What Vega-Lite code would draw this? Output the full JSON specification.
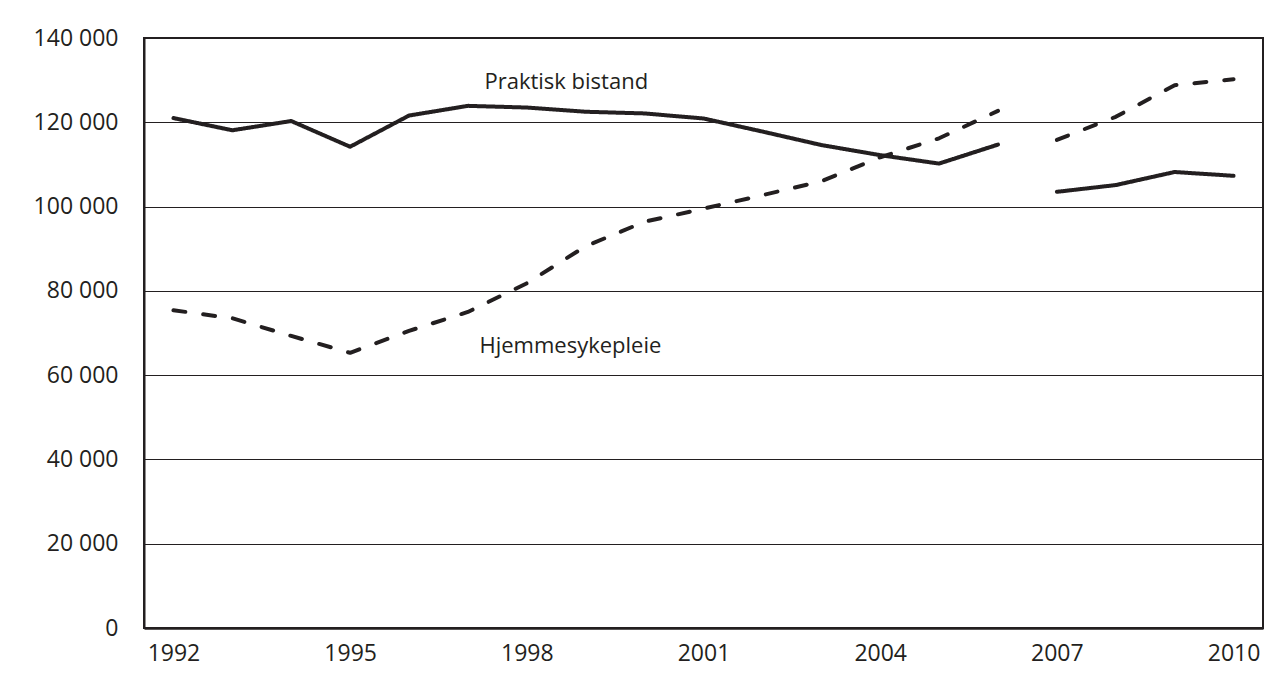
{
  "$schema": "https://vega.github.io/schema/vega-lite/v6.json",
  "width": 1119,
  "height": 590,
  "autosize": {"type": "none"},
  "padding": {"left": 144, "top": 38, "right": 13, "bottom": 58},
  "background": "white",
  "config": {
    "font": "Open Sans",
    "view": {"stroke": "#231f20", "strokeWidth": 2}
  },
  "datasets": {
    "series": [
      {"series": "Praktisk bistand", "segment": "A", "year": 1992, "value": 121000},
      {"series": "Praktisk bistand", "segment": "A", "year": 1993, "value": 118100},
      {"series": "Praktisk bistand", "segment": "A", "year": 1994, "value": 120300},
      {"series": "Praktisk bistand", "segment": "A", "year": 1995, "value": 114200},
      {"series": "Praktisk bistand", "segment": "A", "year": 1996, "value": 121600},
      {"series": "Praktisk bistand", "segment": "A", "year": 1997, "value": 123900},
      {"series": "Praktisk bistand", "segment": "A", "year": 1998, "value": 123500},
      {"series": "Praktisk bistand", "segment": "A", "year": 1999, "value": 122500},
      {"series": "Praktisk bistand", "segment": "A", "year": 2000, "value": 122100},
      {"series": "Praktisk bistand", "segment": "A", "year": 2001, "value": 120900},
      {"series": "Praktisk bistand", "segment": "A", "year": 2002, "value": 117800},
      {"series": "Praktisk bistand", "segment": "A", "year": 2003, "value": 114600},
      {"series": "Praktisk bistand", "segment": "A", "year": 2004, "value": 112200},
      {"series": "Praktisk bistand", "segment": "A", "year": 2005, "value": 110200},
      {"series": "Praktisk bistand", "segment": "A", "year": 2006, "value": 114700},
      {"series": "Praktisk bistand", "segment": "B", "year": 2007, "value": 103500},
      {"series": "Praktisk bistand", "segment": "B", "year": 2008, "value": 105100},
      {"series": "Praktisk bistand", "segment": "B", "year": 2009, "value": 108200},
      {"series": "Praktisk bistand", "segment": "B", "year": 2010, "value": 107300},
      {"series": "Hjemmesykepleie", "segment": "A", "year": 1992, "value": 75400},
      {"series": "Hjemmesykepleie", "segment": "A", "year": 1993, "value": 73500},
      {"series": "Hjemmesykepleie", "segment": "A", "year": 1994, "value": 69300},
      {"series": "Hjemmesykepleie", "segment": "A", "year": 1995, "value": 65300},
      {"series": "Hjemmesykepleie", "segment": "A", "year": 1996, "value": 70500},
      {"series": "Hjemmesykepleie", "segment": "A", "year": 1997, "value": 75000},
      {"series": "Hjemmesykepleie", "segment": "A", "year": 1998, "value": 81800},
      {"series": "Hjemmesykepleie", "segment": "A", "year": 1999, "value": 90600},
      {"series": "Hjemmesykepleie", "segment": "A", "year": 2000, "value": 96400},
      {"series": "Hjemmesykepleie", "segment": "A", "year": 2001, "value": 99500},
      {"series": "Hjemmesykepleie", "segment": "A", "year": 2002, "value": 102700},
      {"series": "Hjemmesykepleie", "segment": "A", "year": 2003, "value": 106000},
      {"series": "Hjemmesykepleie", "segment": "A", "year": 2004, "value": 111700},
      {"series": "Hjemmesykepleie", "segment": "A", "year": 2005, "value": 116200},
      {"series": "Hjemmesykepleie", "segment": "A", "year": 2006, "value": 122700},
      {"series": "Hjemmesykepleie", "segment": "B", "year": 2007, "value": 115800},
      {"series": "Hjemmesykepleie", "segment": "B", "year": 2008, "value": 121300},
      {"series": "Hjemmesykepleie", "segment": "B", "year": 2009, "value": 128800},
      {"series": "Hjemmesykepleie", "segment": "B", "year": 2010, "value": 130200}
    ],
    "labels": [
      {"label": "Praktisk bistand", "year": 1998.67, "value": 127900},
      {"label": "Hjemmesykepleie", "year": 1998.74, "value": 65200}
    ]
  },
  "layer": [
    {
      "data": {"name": "series"},
      "mark": {"type": "line", "strokeWidth": 4, "strokeCap": "round", "strokeJoin": "round", "color": "#231f20"},
      "encoding": {
        "x": {
          "field": "year", "type": "quantitative",
          "scale": {"domain": [1991.5, 2010.5], "nice": false, "zero": false},
          "axis": {
            "values": [1992, 1995, 1998, 2001, 2004, 2007, 2010],
            "format": "d", "title": null, "grid": false, "ticks": false,
            "domainColor": "#231f20", "domainWidth": 2.5,
            "labelFontSize": 23, "labelColor": "#231f20", "labelPadding": 14,
            "labelFlush": false, "labelOverlap": false
          }
        },
        "y": {
          "field": "value", "type": "quantitative",
          "scale": {"domain": [0, 140000], "nice": false},
          "axis": {
            "values": [0, 20000, 40000, 60000, 80000, 100000, 120000, 140000],
            "labelExpr": "replace(format(datum.value, ','), ',', ' ')",
            "title": null, "grid": true, "gridColor": "#231f20", "gridWidth": 1, "gridOpacity": 1,
            "ticks": false, "domainColor": "#231f20", "domainWidth": 2,
            "labelFontSize": 23, "labelColor": "#231f20", "labelPadding": 26,
            "labelFlush": false, "labelOverlap": false
          }
        },
        "strokeDash": {
          "field": "series", "type": "nominal",
          "scale": {"domain": ["Praktisk bistand", "Hjemmesykepleie"], "range": [[1, 0], [12, 18]]},
          "legend": null
        },
        "detail": {"field": "segment", "type": "nominal"}
      }
    },
    {
      "data": {"name": "labels"},
      "mark": {"type": "text", "fontSize": 22, "align": "center", "baseline": "alphabetic", "color": "#231f20"},
      "encoding": {
        "x": {"field": "year", "type": "quantitative"},
        "y": {"field": "value", "type": "quantitative"},
        "text": {"field": "label", "type": "nominal"}
      }
    }
  ]
}
